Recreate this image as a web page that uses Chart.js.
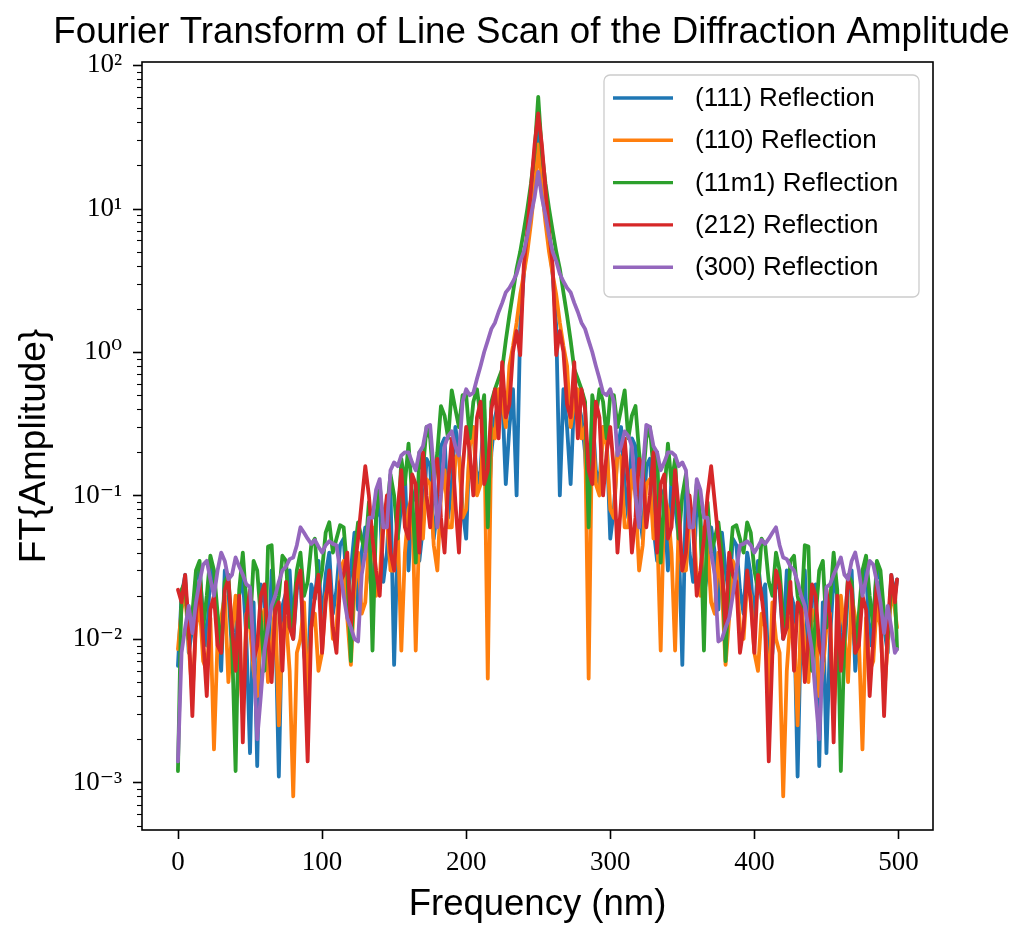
<!DOCTYPE html>
<html>
<head>
<meta charset="utf-8">
<script src="https://cdn.jsdelivr.net/npm/chart.js@4/dist/chart.umd.min.js"></script>
<style>
  html, body { margin: 0; padding: 0; background: #fff; }
  canvas { display: block; }
</style>
</head>
<body>
<canvas id="ftChart" width="1028" height="928"></canvas>
<script>
// sample positions (nm), every 2.5 nm
const frequency = [
    0, 2.5, 5, 7.5, 10, 12.5, 15, 17.5, 20, 22.5,
    25, 27.5, 30, 32.5, 35, 37.5, 40, 42.5, 45, 47.5,
    50, 52.5, 55, 57.5, 60, 62.5, 65, 67.5, 70, 72.5,
    75, 77.5, 80, 82.5, 85, 87.5, 90, 92.5, 95, 97.5,
    100, 102.5, 105, 107.5, 110, 112.5, 115, 117.5, 120, 122.5,
    125, 127.5, 130, 132.5, 135, 137.5, 140, 142.5, 145, 147.5,
    150, 152.5, 155, 157.5, 160, 162.5, 165, 167.5, 170, 172.5,
    175, 177.5, 180, 182.5, 185, 187.5, 190, 192.5, 195, 197.5,
    200, 202.5, 205, 207.5, 210, 212.5, 215, 217.5, 220, 222.5,
    225, 227.5, 230, 232.5, 235, 237.5, 240, 242.5, 245, 247.5,
    250,
    252.5, 255, 257.5, 260, 262.5, 265, 267.5, 270, 272.5, 275,
    277.5, 280, 282.5, 285, 287.5, 290, 292.5, 295, 297.5, 300,
    302.5, 305, 307.5, 310, 312.5, 315, 317.5, 320, 322.5, 325,
    327.5, 330, 332.5, 335, 337.5, 340, 342.5, 345, 347.5, 350,
    352.5, 355, 357.5, 360, 362.5, 365, 367.5, 370, 372.5, 375,
    377.5, 380, 382.5, 385, 387.5, 390, 392.5, 395, 397.5, 400,
    402.5, 405, 407.5, 410, 412.5, 415, 417.5, 420, 422.5, 425,
    427.5, 430, 432.5, 435, 437.5, 440, 442.5, 445, 447.5, 450,
    452.5, 455, 457.5, 460, 462.5, 465, 467.5, 470, 472.5, 475,
    477.5, 480, 482.5, 485, 487.5, 490, 492.5, 495, 497.5,
    499
]

const refl111 = [
    0.0065, 0.020, 0.028, 0.008, 0.012, 0.026, 0.030, 0.014, 0.009, 0.032,
    0.025, 0.012, 0.006, 0.030, 0.022, 0.008, 0.011, 0.020, 0.027, 0.010,
    0.0016, 0.018, 0.0013, 0.024, 0.018, 0.006, 0.030, 0.015, 0.0011, 0.017,
    0.021, 0.030, 0.010, 0.022, 0.028, 0.008, 0.005, 0.024, 0.019, 0.035,
    0.012, 0.028, 0.040, 0.015, 0.022, 0.045, 0.050, 0.020, 0.030, 0.055,
    0.016, 0.040, 0.060, 0.030, 0.020, 0.070, 0.090, 0.025, 0.040, 0.11,
    0.0066, 0.05, 0.085, 0.14, 0.030, 0.09, 0.11, 0.035, 0.060, 0.18,
    0.16, 0.05, 0.080, 0.22, 0.25, 0.07, 0.12, 0.30, 0.20, 0.08,
    0.050, 0.25, 0.30, 0.12, 0.15, 0.40, 0.06, 0.20, 0.35, 0.45,
    0.50, 0.12, 0.30, 0.55, 0.10, 1.5, 3.5, 6, 11, 20,
    42,
    20, 11, 6, 3.5, 1.5, 0.10, 0.55, 0.30, 0.12, 0.50,
    0.45, 0.35, 0.20, 0.06, 0.40, 0.15, 0.12, 0.30, 0.25, 0.050,
    0.08, 0.20, 0.30, 0.12, 0.07, 0.25, 0.22, 0.080, 0.05, 0.16,
    0.18, 0.060, 0.035, 0.11, 0.09, 0.030, 0.14, 0.085, 0.05, 0.0066,
    0.11, 0.040, 0.025, 0.090, 0.070, 0.020, 0.030, 0.060, 0.040, 0.016,
    0.055, 0.030, 0.020, 0.050, 0.045, 0.022, 0.015, 0.040, 0.028, 0.012,
    0.035, 0.019, 0.024, 0.005, 0.008, 0.028, 0.022, 0.010, 0.030, 0.021,
    0.017, 0.0011, 0.015, 0.030, 0.006, 0.018, 0.024, 0.0013, 0.018, 0.0016,
    0.010, 0.027, 0.020, 0.011, 0.008, 0.022, 0.030, 0.006, 0.012, 0.025,
    0.032, 0.009, 0.014, 0.030, 0.026, 0.012, 0.008, 0.028, 0.020,
    0.026
]

const refl110 = [
    0.0085, 0.016, 0.022, 0.009, 0.004, 0.012, 0.018, 0.007, 0.006, 0.014,
    0.0017, 0.010, 0.014, 0.020, 0.005, 0.011, 0.020, 0.008, 0.003, 0.015,
    0.012, 0.006, 0.004, 0.013, 0.016, 0.005, 0.009, 0.018, 0.0025, 0.012,
    0.014, 0.006, 0.0008, 0.008, 0.010, 0.018, 0.004, 0.012, 0.015, 0.006,
    0.008, 0.020, 0.025, 0.010, 0.012, 0.030, 0.035, 0.014, 0.0066, 0.022,
    0.040, 0.015, 0.018, 0.045, 0.060, 0.020, 0.025, 0.080, 0.070, 0.030,
    0.030, 0.065, 0.0083, 0.040, 0.080, 0.10, 0.0083, 0.060, 0.050, 0.13,
    0.12, 0.045, 0.030, 0.10, 0.15, 0.06, 0.06, 0.18, 0.20, 0.07,
    0.08, 0.22, 0.30, 0.10, 0.12, 0.35, 0.0053, 0.30, 0.25, 0.55,
    0.45, 0.30, 0.8, 1.1, 1.6, 2.5, 3.5, 5, 8, 14,
    28,
    14, 8, 5, 3.5, 2.5, 1.6, 1.1, 0.8, 0.30, 0.45,
    0.55, 0.25, 0.30, 0.0053, 0.35, 0.12, 0.10, 0.30, 0.22, 0.08,
    0.07, 0.20, 0.18, 0.06, 0.06, 0.15, 0.10, 0.030, 0.045, 0.12,
    0.13, 0.050, 0.060, 0.0083, 0.10, 0.080, 0.040, 0.0083, 0.065, 0.030,
    0.030, 0.070, 0.080, 0.025, 0.020, 0.060, 0.045, 0.018, 0.015, 0.040,
    0.022, 0.0066, 0.014, 0.035, 0.030, 0.012, 0.010, 0.025, 0.020, 0.008,
    0.006, 0.015, 0.012, 0.004, 0.018, 0.010, 0.008, 0.0008, 0.006, 0.014,
    0.012, 0.0025, 0.018, 0.009, 0.005, 0.016, 0.013, 0.004, 0.006, 0.012,
    0.015, 0.003, 0.008, 0.020, 0.011, 0.005, 0.020, 0.014, 0.010, 0.0017,
    0.014, 0.006, 0.007, 0.018, 0.012, 0.004, 0.009, 0.022, 0.016,
    0.012
]

const refl11m1 = [
    0.0012, 0.022, 0.025, 0.010, 0.015, 0.030, 0.035, 0.012, 0.020, 0.038,
    0.030, 0.015, 0.008, 0.025, 0.028, 0.010, 0.0012, 0.022, 0.040, 0.018,
    0.012, 0.035, 0.030, 0.014, 0.006, 0.044, 0.045, 0.015, 0.020, 0.038,
    0.035, 0.012, 0.014, 0.030, 0.040, 0.020, 0.025, 0.045, 0.050, 0.022,
    0.030, 0.055, 0.065, 0.040, 0.050, 0.062, 0.060, 0.030, 0.007, 0.040,
    0.065, 0.050, 0.040, 0.090, 0.0083, 0.07, 0.12, 0.06, 0.08, 0.14,
    0.10, 0.05, 0.18, 0.12, 0.23, 0.10, 0.034, 0.20, 0.15, 0.30,
    0.25, 0.12, 0.20, 0.42, 0.36, 0.25, 0.54, 0.40, 0.30, 0.50,
    0.50, 0.25, 0.45, 0.55, 0.35, 0.50, 0.06, 0.45, 0.55, 0.65,
    0.76, 1.2, 1.8, 2.6, 3.8, 5, 7, 10, 15, 25,
    60,
    25, 15, 10, 7, 5, 3.8, 2.6, 1.8, 1.2, 0.76,
    0.65, 0.55, 0.45, 0.06, 0.50, 0.35, 0.55, 0.45, 0.25, 0.50,
    0.50, 0.30, 0.40, 0.54, 0.25, 0.36, 0.42, 0.20, 0.12, 0.25,
    0.30, 0.15, 0.20, 0.034, 0.10, 0.23, 0.12, 0.18, 0.05, 0.10,
    0.14, 0.08, 0.06, 0.12, 0.07, 0.0083, 0.090, 0.040, 0.050, 0.065,
    0.040, 0.007, 0.030, 0.060, 0.062, 0.050, 0.040, 0.065, 0.055, 0.030,
    0.022, 0.050, 0.045, 0.025, 0.020, 0.040, 0.030, 0.014, 0.012, 0.035,
    0.038, 0.020, 0.015, 0.045, 0.044, 0.006, 0.014, 0.030, 0.035, 0.012,
    0.018, 0.040, 0.022, 0.0012, 0.010, 0.028, 0.025, 0.008, 0.015, 0.030,
    0.038, 0.020, 0.012, 0.035, 0.030, 0.015, 0.010, 0.025, 0.022,
    0.0085
]

const refl212 = [
    0.022, 0.018, 0.028, 0.012, 0.0029, 0.015, 0.025, 0.010, 0.004, 0.016,
    0.020, 0.009, 0.008, 0.022, 0.026, 0.012, 0.006, 0.020, 0.0019, 0.014,
    0.022, 0.007, 0.009, 0.020, 0.024, 0.010, 0.005, 0.016, 0.018, 0.006,
    0.025, 0.012, 0.010, 0.024, 0.030, 0.008, 0.0014, 0.012, 0.020, 0.028,
    0.008, 0.018, 0.030, 0.012, 0.008, 0.025, 0.028, 0.040, 0.012, 0.030,
    0.050, 0.09, 0.16, 0.10, 0.05, 0.03, 0.020, 0.06, 0.10, 0.04,
    0.030, 0.08, 0.15, 0.06, 0.05, 0.14, 0.12, 0.04, 0.20, 0.10,
    0.06, 0.15, 0.18, 0.07, 0.04, 0.12, 0.25, 0.09, 0.04, 0.15,
    0.30, 0.20, 0.10, 0.35, 0.45, 0.12, 0.15, 0.40, 0.55, 0.25,
    0.85, 0.35, 0.43, 1.0, 1.4, 0.95, 4, 7, 14, 28,
    46,
    28, 14, 7, 4, 0.95, 1.4, 1.0, 0.43, 0.35, 0.85,
    0.25, 0.55, 0.40, 0.15, 0.12, 0.45, 0.35, 0.10, 0.20, 0.30,
    0.15, 0.04, 0.09, 0.25, 0.12, 0.04, 0.07, 0.18, 0.15, 0.06,
    0.10, 0.20, 0.04, 0.12, 0.14, 0.05, 0.06, 0.15, 0.08, 0.030,
    0.04, 0.10, 0.06, 0.020, 0.03, 0.05, 0.10, 0.16, 0.09, 0.050,
    0.030, 0.012, 0.040, 0.028, 0.025, 0.008, 0.012, 0.030, 0.018, 0.008,
    0.028, 0.020, 0.012, 0.0014, 0.008, 0.030, 0.024, 0.010, 0.012, 0.025,
    0.006, 0.018, 0.016, 0.005, 0.010, 0.024, 0.020, 0.009, 0.007, 0.022,
    0.014, 0.0019, 0.020, 0.006, 0.012, 0.026, 0.022, 0.008, 0.009, 0.020,
    0.016, 0.004, 0.010, 0.025, 0.015, 0.0029, 0.012, 0.028, 0.018,
    0.026
]

const refl300 = [
    0.0014, 0.008, 0.012, 0.017, 0.011, 0.018, 0.025, 0.033, 0.035, 0.026,
    0.020, 0.030, 0.040, 0.035, 0.026, 0.028, 0.037, 0.032, 0.028, 0.024,
    0.023, 0.008, 0.002, 0.004, 0.0083, 0.012, 0.017, 0.020, 0.025, 0.030,
    0.032, 0.036, 0.037, 0.045, 0.060, 0.055, 0.050, 0.046, 0.049, 0.044,
    0.040, 0.045, 0.048, 0.046, 0.045, 0.030, 0.020, 0.014, 0.012, 0.010,
    0.0096, 0.028, 0.040, 0.070, 0.070, 0.11, 0.13, 0.06, 0.060, 0.15,
    0.17, 0.16, 0.19, 0.20, 0.20, 0.17, 0.15, 0.20, 0.22, 0.30,
    0.31, 0.15, 0.06, 0.10, 0.22, 0.26, 0.28, 0.22, 0.19, 0.45,
    0.55, 0.50, 0.52, 0.65, 0.8, 1.0, 1.2, 1.45, 1.6, 1.9,
    2.2, 2.6, 2.8, 3.1, 3.5, 4.3, 5, 6.5, 9, 12,
    18,
    12, 9, 6.5, 5, 4.3, 3.5, 3.1, 2.8, 2.6, 2.2,
    1.9, 1.6, 1.45, 1.2, 1.0, 0.8, 0.65, 0.52, 0.50, 0.55,
    0.45, 0.19, 0.22, 0.28, 0.26, 0.22, 0.10, 0.06, 0.15, 0.31,
    0.30, 0.22, 0.20, 0.15, 0.17, 0.20, 0.20, 0.19, 0.16, 0.17,
    0.15, 0.060, 0.06, 0.13, 0.11, 0.070, 0.070, 0.040, 0.028, 0.0096,
    0.010, 0.012, 0.014, 0.020, 0.030, 0.045, 0.046, 0.048, 0.045, 0.040,
    0.044, 0.049, 0.046, 0.050, 0.055, 0.060, 0.045, 0.037, 0.036, 0.032,
    0.030, 0.025, 0.020, 0.017, 0.012, 0.0083, 0.004, 0.002, 0.008, 0.023,
    0.024, 0.028, 0.032, 0.037, 0.028, 0.026, 0.035, 0.040, 0.030, 0.020,
    0.026, 0.035, 0.033, 0.025, 0.018, 0.011, 0.017, 0.012, 0.008,
    0.0085
]

const seriesLabels = ['(111) Reflection', '(110) Reflection', '(11m1) Reflection', '(212) Reflection', '(300) Reflection']
const seriesColors = ['#1f77b4', '#ff7f0e', '#2ca02c', '#d62728', '#9467bd']
const xTicks = [0, 100, 200, 300, 400, 500]
const yTicks = [1e-3, 1e-2, 1e-1, 1, 10, 100]

const SANS = '"Liberation Sans", Arial, sans-serif'
const SERIF = '"Liberation Serif", "DejaVu Serif", serif'
const LINE_W = 3.8

const sup = { '-': '\u207B', '0': '\u2070', '1': '\u00B9', '2': '\u00B2', '3': '\u00B3' }
const powerLabel = v => '10' + String(Math.round(Math.log10(v))).split('').map(c => sup[c]).join('')

// frame, matplotlib-style ticks, title and legend
const mplDecor = {
    id: 'mplDecor',
    afterDraw(chart) {
        const { ctx, chartArea: a, scales: { x, y } } = chart
        ctx.save()
        ctx.strokeStyle = '#000'
        ctx.lineCap = 'butt'

        const tick = (x1, y1, x2, y2, w) => {
            ctx.lineWidth = w
            ctx.beginPath()
            ctx.moveTo(x1, y1)
            ctx.lineTo(x2, y2)
            ctx.stroke()
        }

        xTicks.forEach(v => {
            const px = Math.round(x.getPixelForValue(v)) + 0.5
            tick(px, a.bottom, px, a.bottom + 9, 1.6)
        })
        for (let e = -4; e <= 2; e++) {
            for (let k = 1; k <= 9; k++) {
                const v = k * Math.pow(10, e)
                if (v < y.min || v > y.max) continue
                const py = Math.round(y.getPixelForValue(v)) + 0.5
                if (k === 1) tick(a.left - 9, py, a.left, py, 1.6)
                else tick(a.left - 5, py, a.left, py, 1.1)
            }
        }

        ctx.lineWidth = 1.6
        ctx.strokeRect(a.left, a.top, a.right - a.left, a.bottom - a.top)

        // title
        ctx.fillStyle = '#000'
        ctx.font = '36.7px ' + SANS
        ctx.textAlign = 'center'
        ctx.textBaseline = 'alphabetic'
        ctx.fillText('Fourier Transform of Line Scan of the Diffraction Amplitude', (a.left + a.right) / 2 - 6, 43)

        // legend
        const w = 315, h = 222
        const lx = a.right - 14 - w, ly = a.top + 13
        ctx.beginPath()
        ctx.roundRect(lx, ly, w, h, 6)
        ctx.fillStyle = 'rgba(255,255,255,0.8)'
        ctx.fill()
        ctx.strokeStyle = '#cccccc'
        ctx.lineWidth = 1.3
        ctx.stroke()
        ctx.font = '26px ' + SANS
        ctx.textAlign = 'left'
        ctx.textBaseline = 'middle'
        seriesLabels.forEach((label, i) => {
            const ry = ly + 23 + i * 42.3
            ctx.strokeStyle = seriesColors[i]
            ctx.lineWidth = 3.4
            ctx.beginPath()
            ctx.moveTo(lx + 9, ry)
            ctx.lineTo(lx + 69, ry)
            ctx.stroke()
            ctx.fillStyle = '#000'
            ctx.fillText(label, lx + 91, ry + 1)
        })
        ctx.restore()
    }
}

const renderChart = () => {
    const series = [refl111, refl110, refl11m1, refl212, refl300]

    const data = {
        datasets: series.map((values, i) => ({
            label: seriesLabels[i],
            data: frequency.map((f, j) => ({ x: f, y: values[j] })),
            borderColor: seriesColors[i],
            backgroundColor: seriesColors[i],
            borderWidth: LINE_W,
            borderJoinStyle: 'round',
            borderCapStyle: 'round',
            pointRadius: 0,
            tension: 0,
            order: series.length - 1 - i
        }))
    }

    const options = {
        responsive: false,
        animation: false,
        devicePixelRatio: 1,
        layout: { padding: { top: 62, right: 95, left: 0, bottom: 0 } },
        plugins: {
            legend: { display: false },
            tooltip: { enabled: false },
            title: { display: false }
        },
        scales: {
            x: {
                type: 'linear',
                min: -24.95,
                max: 523.95,
                afterBuildTicks: scale => { scale.ticks = xTicks.map(v => ({ value: v })) },
                afterFit: scale => { scale.height = 98 },
                grid: { display: false, drawTicks: false },
                border: { display: false },
                ticks: {
                    color: '#000',
                    padding: 17,
                    maxRotation: 0,
                    font: { family: SERIF, size: 27 }
                },
                title: {
                    display: true,
                    text: 'Frequency (nm)',
                    color: '#000',
                    padding: { top: 0, bottom: 1 },
                    font: { family: SANS, size: 36.5 }
                }
            },
            y: {
                type: 'logarithmic',
                min: 4.66e-4,
                max: 105,
                afterBuildTicks: scale => { scale.ticks = yTicks.map(v => ({ value: v, major: true })) },
                afterFit: scale => { scale.width = 142 },
                grid: { display: false, drawTicks: false },
                border: { display: false },
                ticks: {
                    color: '#000',
                    padding: 20,
                    font: { family: SERIF, size: 27 },
                    callback: v => powerLabel(v)
                },
                title: {
                    display: true,
                    text: 'FT{Amplitude}',
                    color: '#000',
                    padding: { top: 13, bottom: 0 },
                    font: { family: SANS, size: 37 }
                }
            }
        }
    }

    new Chart('ftChart', { type: 'line', data, options, plugins: [mplDecor] })
}

renderChart()
</script>
</body>
</html>
